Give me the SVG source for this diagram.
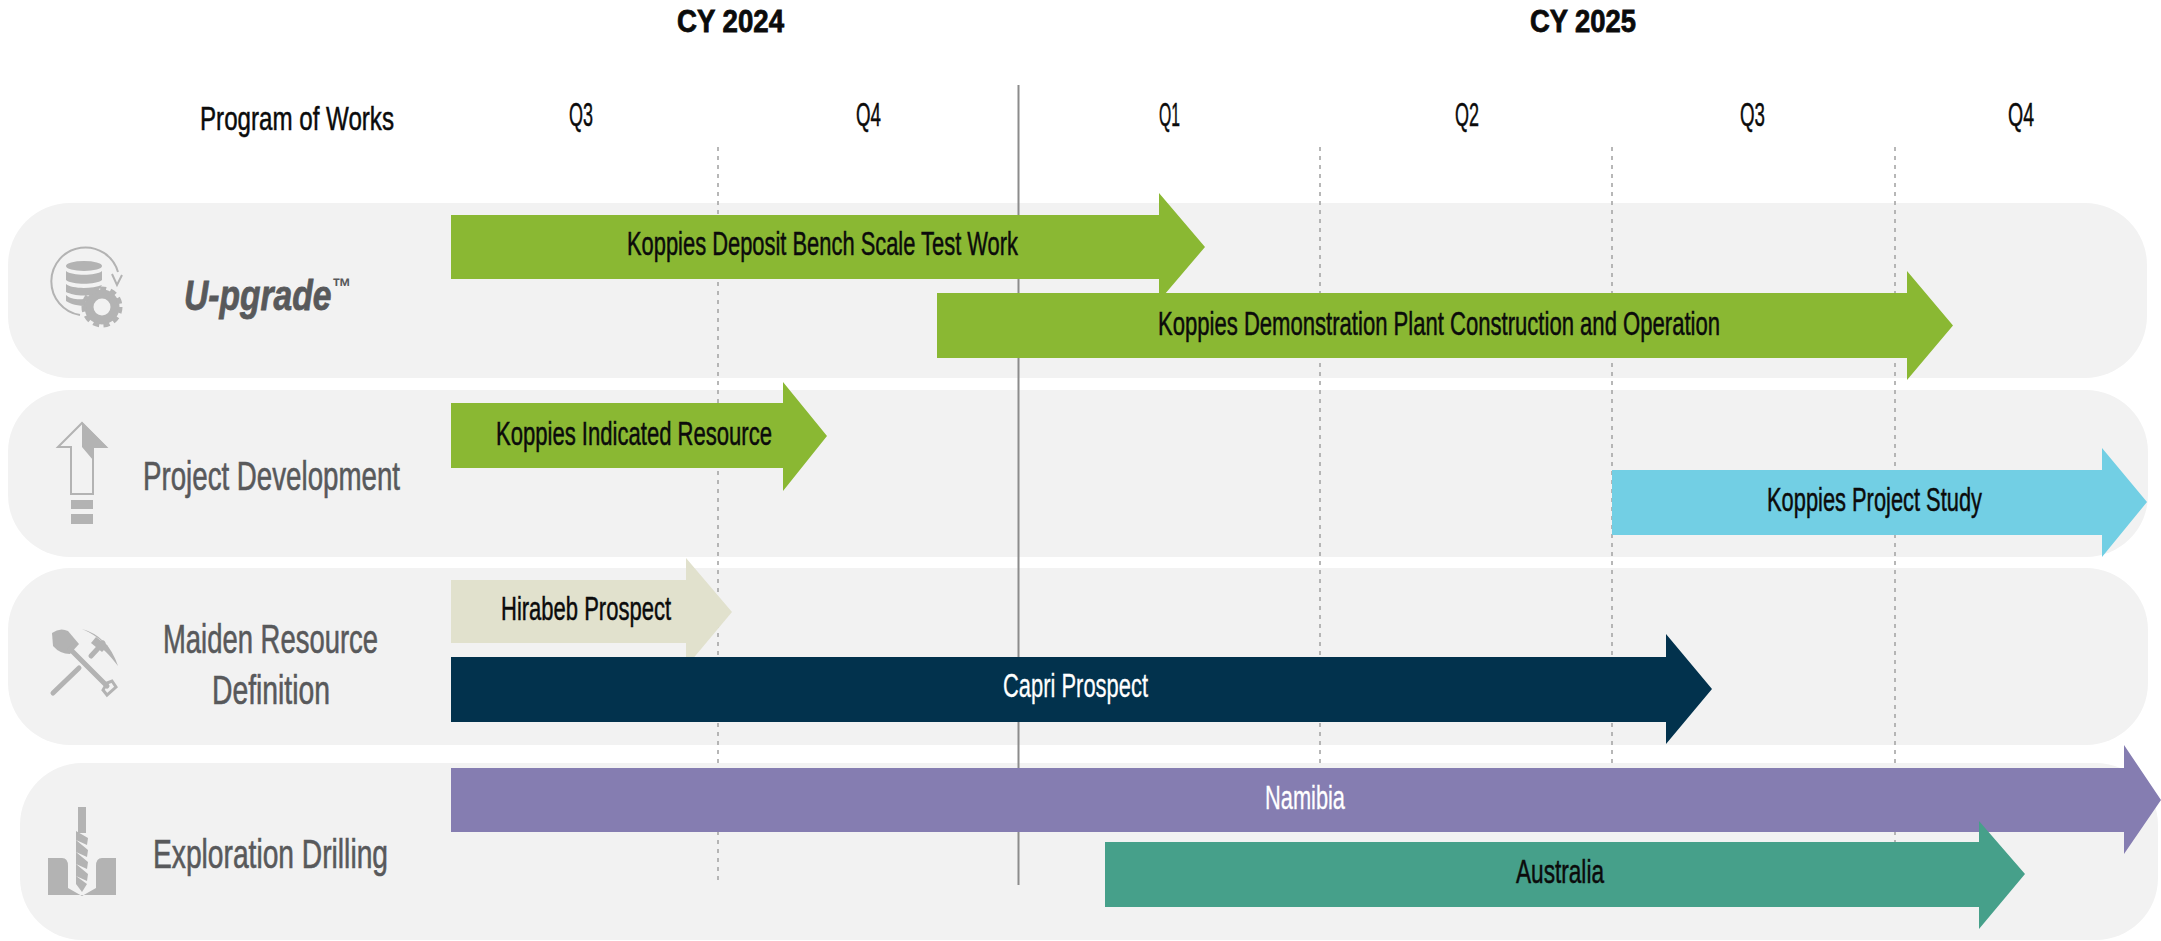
<svg xmlns="http://www.w3.org/2000/svg" width="2161" height="941" viewBox="0 0 2161 941">
<style>
text{font-family:"Liberation Sans Narrow","Liberation Sans",Arial,sans-serif;fill:#0b0b0b}
.h{font-size:31px;font-weight:700;stroke:#0b0b0b;stroke-width:.8px}
.q{font-size:33px;stroke:#0b0b0b;stroke-width:.5px}
.b{font-size:33px;stroke:#0b0b0b;stroke-width:.5px}
.w{fill:#fff;stroke:#fff;stroke-width:.3px}
.l{font-size:40px;fill:#58595b;stroke:#58595b;stroke-width:.6px}
.u{font-size:42px;font-weight:700;font-style:italic;fill:#58595b;stroke:#58595b;stroke-width:.8px}
.tm{font-size:24px;stroke-width:0}
.band{fill:#f2f2f2}
.ic{fill:#b3b3b3}
.ol{fill:none;stroke:#b3b3b3}
.dash{stroke:#a6a6a6;stroke-width:1.6;stroke-dasharray:4 5;fill:none}
.solid{stroke:#8c8c8c;stroke-width:2;fill:none}
.green{fill:#8ab833}
</style>
<rect width="2161" height="941" fill="#fff"/>
<g id="bands">
<rect class="band" x="8" y="203" width="2139" height="175" rx="62"/>
<rect class="band" x="8" y="390" width="2140" height="167" rx="62"/>
<rect class="band" x="8" y="568" width="2140" height="177" rx="62"/>
<rect class="band" x="20" y="763" width="2138" height="177" rx="62"/>
</g>
<g id="connectors">
<path class="dash" d="M718 147V885"/>
<path class="dash" d="M1320 147V770"/>
<path class="dash" d="M1612 147V770"/>
<path class="dash" d="M1895 147V842"/>
<path class="solid" d="M1018.500 85V885"/>
</g>
<g id="headers">
<text class="h" x="677" y="32" textLength="107" lengthAdjust="spacingAndGlyphs">CY 2024</text>
<text class="h" x="1530" y="32" textLength="106" lengthAdjust="spacingAndGlyphs">CY 2025</text>
<text class="b" x="200" y="130" textLength="194" lengthAdjust="spacingAndGlyphs">Program of Works</text>
<text class="q" x="569" y="126" textLength="24" lengthAdjust="spacingAndGlyphs">Q3</text>
<text class="q" x="856" y="126" textLength="25" lengthAdjust="spacingAndGlyphs">Q4</text>
<text class="q" x="1159" y="126" textLength="21" lengthAdjust="spacingAndGlyphs">Q1</text>
<text class="q" x="1455" y="126" textLength="24" lengthAdjust="spacingAndGlyphs">Q2</text>
<text class="q" x="1740" y="126" textLength="25" lengthAdjust="spacingAndGlyphs">Q3</text>
<text class="q" x="2008" y="126" textLength="26" lengthAdjust="spacingAndGlyphs">Q4</text>
</g>
<g id="bar-koppies-bench">
<path class="green" d="M451 215H1159V193L1205 247L1159 301V279H451Z"/>
<text class="b" x="627" y="255" textLength="391" lengthAdjust="spacingAndGlyphs">Koppies Deposit Bench Scale Test Work</text>
</g>
<g id="bar-koppies-demo">
<path class="green" d="M937 293H1907V271L1953 325.500L1907 380V358H937Z"/>
<text class="b" x="1158" y="335" textLength="562" lengthAdjust="spacingAndGlyphs">Koppies Demonstration Plant Construction and Operation</text>
</g>
<g id="bar-koppies-indicated">
<path class="green" d="M451 403H783V382L827 436L783 491V468H451Z"/>
<text class="b" x="496" y="445" textLength="276" lengthAdjust="spacingAndGlyphs">Koppies Indicated Resource</text>
</g>
<g id="bar-koppies-study">
<path fill="#72cfe4" d="M1612 470H2102V448L2147 502L2102 557V535H1612Z"/>
<text class="b" x="1767" y="511" textLength="215" lengthAdjust="spacingAndGlyphs">Koppies Project Study</text>
</g>
<g id="bar-hirabeb">
<path fill="#e1e1cd" d="M451 580H686V558L732 612L686 667V643H451Z"/>
<text class="b" x="501" y="620" textLength="170" lengthAdjust="spacingAndGlyphs">Hirabeb Prospect</text>
</g>
<g id="bar-capri">
<path fill="#02324d" d="M451 657H1666V634L1712 689L1666 744V722H451Z"/>
<text class="b w" x="1003" y="697" textLength="145" lengthAdjust="spacingAndGlyphs">Capri Prospect</text>
</g>
<g id="bar-namibia">
<path fill="#857db1" d="M451 768H2124V745L2161 800L2124 854V832H451Z"/>
<text class="b w" x="1265" y="809" textLength="80" lengthAdjust="spacingAndGlyphs">Namibia</text>
</g>
<g id="bar-australia">
<path fill="#46a08a" d="M1105 842H1979V821L2025 874L1979 929V907H1105Z"/>
<text class="b" x="1516" y="883" textLength="88" lengthAdjust="spacingAndGlyphs">Australia</text>
</g>
<g id="row-upgrade">
<path class="ol" stroke-width="2" d="M118 272A34 34 0 1 0 80 315"/>
<path class="ol" stroke-width="2" d="M112 274L117 285L122 275"/>
<ellipse class="ic" cx="84" cy="266" rx="18" ry="5"/>
<path class="ic" d="M66 271C72 276 96 276 102 271V280C96 285 72 285 66 280Z"/>
<path class="ic" d="M66 284C72 289 92 289 102 285L96 294C84 297 72 295 66 292Z"/>
<path class="ic" d="M66 295C70 299 78 300 84 299L88 306C78 306 70 304 66 301Z"/>
<circle cx="102" cy="307" r="13" fill="none" stroke="#b3b3b3" stroke-width="9"/>
<circle cx="102" cy="307" r="18" fill="none" stroke="#b3b3b3" stroke-width="5" stroke-dasharray="6 4.300"/>
<text class="u" transform="translate(184 310) scale(.8 1)">U-pgrade<tspan class="tm" dy="-15">™</tspan></text>
</g>
<g id="row-project-development">
<path class="ol" stroke-width="2" d="M71 494V447H58L82 423L106 447H93V494Z"/>
<path class="ic" d="M82 422L107 447H93V460L82 447Z"/>
<rect class="ic" x="71" y="500" width="22" height="9"/>
<rect class="ic" x="71" y="514" width="22" height="10"/>
<text class="l" x="143" y="490" textLength="257" lengthAdjust="spacingAndGlyphs">Project Development</text>
</g>
<g id="row-maiden">
<path class="ic" d="M52 633Q60 627 68 631L79 644L70 654Q60 654 53 646Z"/>
<path class="ol" stroke-width="5" stroke-linecap="round" d="M70 649L107 686"/>
<path class="ol" stroke-width="3" d="M103 690L107 695L116 687L112 681L107 683Z"/>
<path class="ol" stroke-width="5" stroke-linecap="round" d="M53 693L79 668M91 656L103 643"/>
<path class="ic" d="M82 629Q108 636 118 666Q104 648 99 647L104 643Q94 634 82 629Z"/>
<path class="ic" d="M96 637L108 646L102 652L91 643Z"/>
<text class="l" x="163" y="653" textLength="215" lengthAdjust="spacingAndGlyphs">Maiden Resource</text>
<text class="l" x="212" y="704" textLength="118" lengthAdjust="spacingAndGlyphs">Definition</text>
</g>
<g id="row-exploration">
<path class="ic" d="M48 858H62Q68 858 68 866V888L82 896L96 888V866Q96 858 102 858H116V895H48Z"/>
<rect class="ic" x="78" y="807" width="8" height="26"/>
<path class="ic" d="M76 831L88 838L87 845L76 840L88 850L87 857L76 852L88 862L87 869L76 864L88 874L87 881L76 876L87 884L82 892L76 884Z"/>
<text class="l" x="153" y="868" textLength="235" lengthAdjust="spacingAndGlyphs">Exploration Drilling</text>
</g>
</svg>
